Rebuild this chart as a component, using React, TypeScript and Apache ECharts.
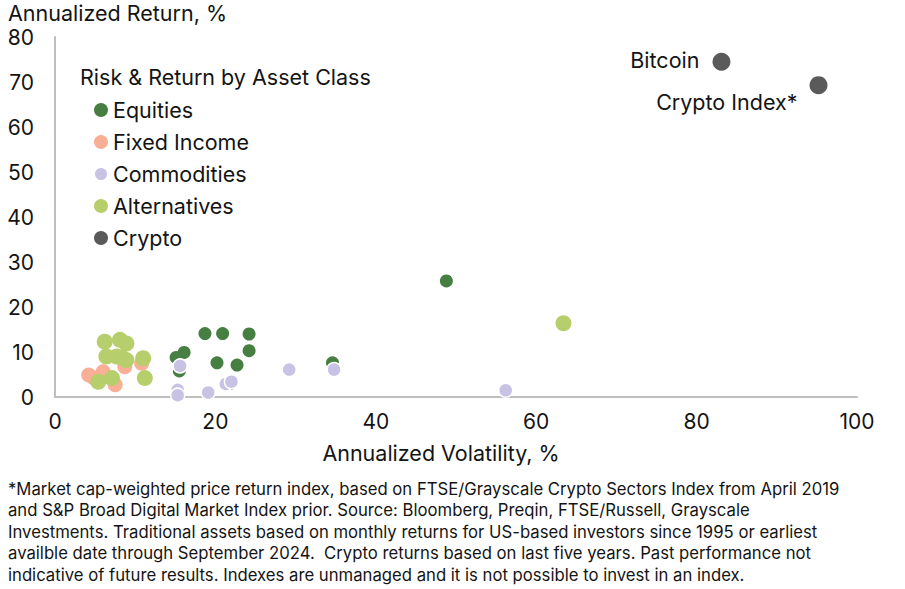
import React, { useEffect, useRef } from "react";
import * as echarts from "echarts";

const seriesNames = ["Equities", "Fixed Income", "Commodities", "Alternatives", "Crypto"];

const equities: number[][] = [
  [18.7, 14.1], [20.9, 14.1], [24.2, 14.0], [24.2, 10.3], [16.1, 9.9], [15.1, 8.8],
  [15.5, 5.8], [20.2, 7.6], [22.7, 7.1], [21.8, 3.0], [34.6, 7.6], [48.8, 25.8],
];
const fixedIncome: number[][] = [
  [4.2, 4.9], [4.8, 4.3], [6.0, 5.6], [7.5, 2.7], [8.7, 6.7], [10.8, 7.5],
];
const commodities: number[][] = [
  [15.6, 6.9], [15.3, 1.6], [15.3, 0.4], [19.1, 1.0], [21.3, 2.9], [22.0, 3.4],
  [29.2, 6.1], [34.8, 6.1], [56.2, 1.5],
];
const alternatives: number[][] = [
  [6.2, 12.3], [8.1, 12.7], [8.9, 11.9], [6.4, 9.0], [7.7, 9.0], [8.3, 8.8],
  [8.9, 8.2], [11.0, 8.6], [5.4, 3.4], [7.1, 4.2], [11.2, 4.2], [63.4, 16.4],
];
const cryptoNames = ["Bitcoin", "Crypto Index*"];
const crypto: number[][] = [
  [83.1, 74.5], [95.2, 69.3],
];

const colors = ["#467f41", "#f9ae96", "#c8c2e5", "#b6cf6c", "#5a5a5a"];

const footnote = [
  "*Market cap-weighted price return index, based on FTSE/Grayscale Crypto Sectors Index from April 2019",
  "and S&P Broad Digital Market Index prior. Source: Bloomberg, Preqin, FTSE/Russell, Grayscale",
  "Investments. Traditional assets based on monthly returns for US-based investors since 1995 or earliest",
  "availble date through September 2024.  Crypto returns based on last five years. Past performance not",
  "indicative of future results. Indexes are unmanaged and it is not possible to invest in an index.",
];

const FONT = "Inter, 'Open Sans', sans-serif";
const TXT = "#141414";
const FS = 21.5;

export default function App() {
  const ref = useRef<HTMLDivElement>(null);
  useEffect(() => {
    if (!ref.current) return;
    const chart = echarts.init(ref.current, null, { renderer: "svg" });
    chart.setOption({
      animation: false,
      textStyle: { fontFamily: FONT, color: TXT },
      title: [
        { text: "Annualized Return, %", left: 8, top: 2, padding: 0, textStyle: { fontSize: FS, fontWeight: "normal", color: TXT, fontFamily: FONT } },
        { text: "Risk & Return by Asset Class", left: 80, top: 66, padding: 0, textStyle: { fontSize: FS, fontWeight: "normal", color: TXT, fontFamily: FONT } },
      ],
      legend: {
        orient: "vertical",
        left: 88,
        top: 94,
        itemGap: 10,
        itemWidth: 14,
        itemHeight: 14,
        icon: "circle",
        data: seriesNames,
        textStyle: { fontSize: FS, color: TXT, fontFamily: FONT },
      },
      grid: { left: 55, right: 48, top: 37, bottom: 192, containLabel: false },
      xAxis: {
        type: "value",
        min: 0,
        max: 100,
        interval: 20,
        name: "Annualized Volatility, %",
        nameLocation: "middle",
        nameGap: 45,
        nameTextStyle: { fontSize: FS, color: TXT, fontFamily: FONT, padding: [0, 30, 0, 0] },
        axisLine: { show: true, lineStyle: { color: "#bfbfbf", width: 2 } },
        axisTick: { show: false },
        splitLine: { show: false },
        axisLabel: { fontSize: 21, color: TXT, margin: 14, fontFamily: FONT },
      },
      yAxis: {
        type: "value",
        min: 0,
        max: 80,
        interval: 10,
        axisLine: { show: true, lineStyle: { color: "#bfbfbf", width: 2 } },
        axisTick: { show: false },
        splitLine: { show: false },
        axisLabel: { fontSize: 21, color: TXT, margin: 21, fontFamily: FONT },
      },
      series: [
        { name: "Equities", type: "scatter", data: equities, symbolSize: 13, itemStyle: { color: colors[0], opacity: 1 } },
        { name: "Fixed Income", type: "scatter", data: fixedIncome, symbolSize: 15, itemStyle: { color: colors[1], opacity: 1 } },
        { name: "Commodities", type: "scatter", data: commodities, symbolSize: 14, itemStyle: { color: colors[2], borderColor: "#ffffff", borderWidth: 1.5, opacity: 1 } },
        { name: "Alternatives", type: "scatter", data: alternatives, symbolSize: 16, itemStyle: { color: colors[3], opacity: 1 } },
        {
          name: "Crypto",
          type: "scatter",
          symbolSize: 18,
          itemStyle: { color: colors[4], opacity: 1 },
          data: crypto.map((d, i) => ({
            value: d,
            name: cryptoNames[i],
            label: {
              show: true,
              formatter: cryptoNames[i],
              position: "left",
              offset: i === 0 ? [-8, -2] : [-7, 17],
              fontSize: FS,
              color: TXT,
              fontFamily: FONT,
            },
          })),
        },
      ],
      graphic: [
        {
          type: "text",
          left: 8,
          top: 478,
          style: {
            text: footnote.join("\n"),
            fontSize: 16.7,
            lineHeight: 21.5,
            fill: TXT,
            fontFamily: FONT,
          },
        },
      ],
    });
    return () => chart.dispose();
  }, []);
  return <div ref={ref} style={{ width: 905, height: 589, position: "absolute", left: 0, top: 0 }} />;
}
